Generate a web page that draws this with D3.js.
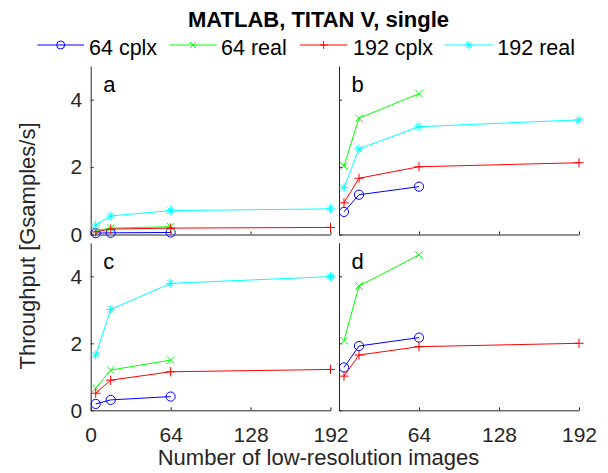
<!DOCTYPE html>
<html>
<head>
<meta charset="utf-8">
<script src="https://cdn.jsdelivr.net/npm/d3@7"></script>
<style>
  body { margin: 0; background: #fff; }
  text { font-family: "Liberation Sans", Arial, Helvetica, sans-serif; }
</style>
</head>
<body>
<div id="chart"></div>
<script>
// Data (Gsamples/s), one row per panel a, b, c, d.
const xVals      = [4, 16, 64, 192];
const panelNames = ["a", "b", "c", "d"];
const seriesNames = ["64 cplx", "64 real", "192 cplx", "192 real"];
const xTicks = [0, 64, 128, 192];
const yTicks = [0, 2, 4];

const cplx64 = [
  [0.04, 0.05, 0.06],
  [0.67, 1.18, 1.42],
  [0.19, 0.31, 0.41],
  [1.28, 1.92, 2.17]
];
const real64 = [
  [0.12, 0.19, 0.23],
  [2.03, 3.45, 4.18],
  [0.66, 1.20, 1.50],
  [2.08, 3.71, 4.64]
];
const cplx192 = [
  [0.08, 0.16, 0.19, 0.21],
  [0.94, 1.67, 2.01, 2.13],
  [0.51, 0.90, 1.15, 1.22],
  [1.02, 1.65, 1.90, 2.00]
];
const real192 = [
  [0.28, 0.55, 0.71, 0.76],
  [1.39, 2.54, 3.20, 3.40],
  [1.65, 3.01, 3.79, 3.99],
  null
];

const W = 608, H = 473;
const font = "'Liberation Sans', Arial, Helvetica, sans-serif";
const axisColor = "#262626";

const colors  = ["#0000ff", "#00ff00", "#ff0000", "#00ffff"];
const markers = ["circle", "x", "plus", "star"];
const allSeries = [cplx64, real64, cplx192, real192];

// marker path generator (MATLAB style, stroked)
function markerPath(type, s) {
  const p = d3.path();
  if (type === "circle") {
    p.moveTo(s, 0); p.arc(0, 0, s, 0, 2 * Math.PI);
  } else if (type === "plus") {
    p.moveTo(-s, 0); p.lineTo(s, 0); p.moveTo(0, -s); p.lineTo(0, s);
  } else if (type === "x") {
    const k = s * 0.75;
    p.moveTo(-k, -k); p.lineTo(k, k); p.moveTo(-k, k); p.lineTo(k, -k);
  } else if (type === "star") {
    const k = s * 0.7;
    p.moveTo(-s, 0); p.lineTo(s, 0); p.moveTo(0, -s); p.lineTo(0, s);
    p.moveTo(-k, -k); p.lineTo(k, k); p.moveTo(-k, k); p.lineTo(k, -k);
  }
  return p.toString();
}

const svg = d3.select("#chart").append("svg")
  .attr("width", W).attr("height", H);

// panel frames
const cols = [[90.7, 330.5], [339, 579]];
const rows = [[66, 234.5], [242.8, 410.3]];

panelNames.forEach((name, pi) => {
  const col = cols[pi % 2], row = rows[Math.floor(pi / 2)];
  const isLeft = pi % 2 === 0, isBottom = pi >= 2;

  const x = d3.scaleLinear().domain([0, 192]).range(col);
  const y = d3.scaleLinear().domain([0, 5]).range([row[1], row[0]]);

  const g = svg.append("g");

  // x axis
  const xAxis = d3.axisBottom(x)
    .tickValues(xTicks)
    .tickSizeInner(-3).tickSizeOuter(0)
    .tickPadding(16.5)
    .tickFormat(d => (isBottom && (isLeft || d !== 0)) ? d : "");
  g.append("g")
    .attr("transform", `translate(0,${row[1]})`)
    .call(xAxis)
    .call(a => a.selectAll("text").attr("font-size", 21).attr("font-family", font).attr("fill", axisColor))
    .call(a => a.selectAll("line,path").attr("stroke", axisColor));

  // y axis
  const yAxis = d3.axisLeft(y)
    .tickValues(yTicks)
    .tickSizeInner(-3).tickSizeOuter(0)
    .tickPadding(8.5)
    .tickFormat(d => isLeft ? d : "");
  g.append("g")
    .attr("transform", `translate(${col[0]},0)`)
    .call(yAxis)
    .call(a => a.selectAll("text").attr("font-size", 21).attr("font-family", font).attr("fill", axisColor))
    .call(a => a.selectAll("line,path").attr("stroke", axisColor));

  // series
  allSeries.forEach((series, si) => {
    const vals = series[pi];
    if (!vals) return;
    const pts = vals.map((v, i) => [xVals[i], v]);
    g.append("path")
      .datum(pts)
      .attr("fill", "none")
      .attr("stroke", colors[si])
      .attr("stroke-width", 1)
      .attr("d", d3.line().x(d => x(d[0])).y(d => y(d[1])));
    g.selectAll(null)
      .data(pts)
      .enter().append("path")
        .attr("transform", d => `translate(${x(d[0])},${y(d[1])})`)
        .attr("d", markerPath(markers[si], markers[si] === "x" ? 5 : 4.6))
        .attr("fill", "none")
        .attr("stroke", colors[si])
        .attr("stroke-width", 1);
  });

  // panel letter
  g.append("text")
    .attr("x", col[0] + 12.5)
    .attr("y", row[0] + 26)
    .attr("font-size", 22)
    .attr("font-family", font)
    .attr("fill", "#000")
    .text(name);
});

// title
svg.append("text")
  .attr("x", 318.5).attr("y", 27)
  .attr("text-anchor", "middle")
  .attr("font-size", 22).attr("font-weight", "bold")
  .attr("font-family", font)
  .text("MATLAB, TITAN V, single");

// legend
const legendItems = [
  { x0: 37.3, x1: 84, tx: 89 },
  { x0: 169.3, x1: 216.7, tx: 221 },
  { x0: 300, x1: 347.3, tx: 353 },
  { x0: 444.7, x1: 493, tx: 497.3 }
];
const legend = svg.append("g");
legendItems.forEach((it, i) => {
  legend.append("line")
    .attr("x1", it.x0).attr("x2", it.x1)
    .attr("y1", 45).attr("y2", 45)
    .attr("stroke", colors[i]).attr("stroke-width", 1);
  legend.append("path")
    .attr("transform", `translate(${(it.x0 + it.x1) / 2},45)`)
    .attr("d", markerPath(markers[i], markers[i] === "x" ? 4 : 4))
    .attr("fill", "none")
    .attr("stroke", colors[i]).attr("stroke-width", 1);
  legend.append("text")
    .attr("x", it.tx).attr("y", 55)
    .attr("font-size", 21.5)
    .attr("font-family", font)
    .attr("fill", "#000")
    .text(seriesNames[i]);
});

// axis labels
svg.append("text")
  .attr("x", 318.5).attr("y", 465)
  .attr("text-anchor", "middle")
  .attr("font-size", 22).attr("font-family", font)
  .attr("fill", axisColor)
  .text("Number of low-resolution images");

svg.append("text")
  .attr("transform", "translate(35,246) rotate(-90)")
  .attr("text-anchor", "middle")
  .attr("font-size", 22).attr("font-family", font)
  .attr("fill", axisColor)
  .text("Throughput [Gsamples/s]");
</script>
</body>
</html>
